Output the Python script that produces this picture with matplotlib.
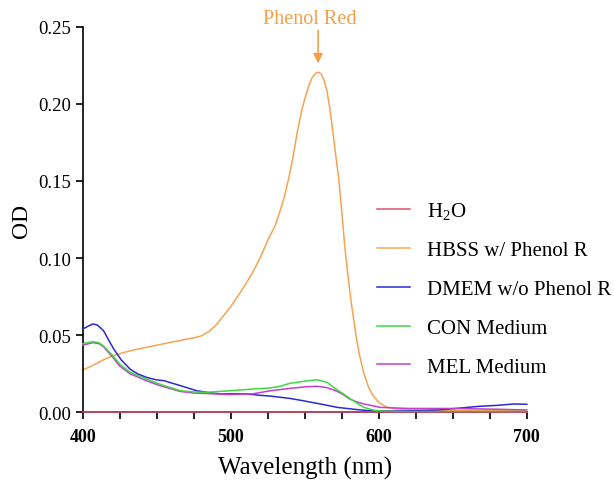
import matplotlib
matplotlib.use("Agg")
import matplotlib.pyplot as plt
from matplotlib.ticker import MultipleLocator, FormatStrFormatter

plt.rcParams['font.family'] = ['Liberation Serif', 'DejaVu Serif']
plt.rcParams['mathtext.fontset'] = 'custom'
plt.rcParams['mathtext.rm'] = 'Liberation Serif'

# ---- data ----
h2o_wl = [400, 700]
h2o_od = [0.0, 0.0]

hbss_wl = [400, 405, 410, 415, 420, 425, 430, 435, 440, 445, 450, 455, 460, 465, 470,
           475, 480, 485, 490, 495, 500, 505, 510, 515, 520, 525, 530, 533, 536, 539,
           542, 545, 548, 551, 553, 555, 557, 559, 561, 563, 565, 567, 569, 571, 573,
           575, 577, 579, 581, 583, 585, 587, 590, 593, 596, 600, 605, 612, 630, 660, 700]
hbss_od = [0.0275, 0.0295, 0.032, 0.0345, 0.0365, 0.038, 0.0393, 0.0405, 0.0415, 0.0425,
           0.0435, 0.0445, 0.0455, 0.0464, 0.0474, 0.0482, 0.0495, 0.0522, 0.0565, 0.0625,
           0.0685, 0.0755, 0.083, 0.091, 0.1005, 0.1115, 0.121, 0.1295, 0.139, 0.151,
           0.165, 0.182, 0.196, 0.2065, 0.2125, 0.217, 0.2195, 0.2205, 0.2195, 0.2155,
           0.2085, 0.1965, 0.1816, 0.166, 0.151, 0.13, 0.108, 0.09, 0.074, 0.0605, 0.0475,
           0.037, 0.025, 0.0165, 0.011, 0.0065, 0.0035, 0.002, 0.0015, 0.0012, 0.001]

dmem_wl = [400, 404, 407, 410, 414, 418, 421, 426, 432, 437, 443, 450, 455, 460, 466,
           471, 477, 485, 493, 500, 511, 520, 527, 540, 549, 560, 572, 585, 594, 610,
           623, 640, 653, 668, 680, 691, 700]
dmem_od = [0.054, 0.056, 0.0573, 0.0565, 0.053, 0.046, 0.041, 0.034, 0.028, 0.025,
           0.0227, 0.021, 0.0205, 0.019, 0.0173, 0.0158, 0.014, 0.0128, 0.0119, 0.012,
           0.0119, 0.011, 0.0105, 0.009, 0.0075, 0.0055, 0.0032, 0.0018, 0.001, 0.0008,
           0.001, 0.0015, 0.0026, 0.0039, 0.0045, 0.0054, 0.0052]

con_wl = [400, 407, 411, 414, 420, 425, 432, 443, 450, 455, 466, 475, 484, 492, 500,
          515, 527, 533, 540, 550, 558, 565, 571, 576, 581, 586, 590, 595, 599, 610, 700]
con_od = [0.0445, 0.0458, 0.045, 0.043, 0.037, 0.0313, 0.026, 0.0216, 0.019, 0.0173,
          0.014, 0.0132, 0.013, 0.0135, 0.014, 0.0151, 0.0158, 0.0168, 0.0188, 0.0202,
          0.0211, 0.0195, 0.0151, 0.012, 0.0086, 0.0055, 0.0032, 0.0018, 0.001, 0.0005,
          0.0005]

mel_wl = [400, 407, 411, 414, 420, 425, 432, 443, 450, 455, 466, 475, 484, 492, 500,
          515, 527, 540, 550, 558, 565, 571, 576, 580, 585, 590, 601, 620, 650, 680, 700]
mel_od = [0.0435, 0.0452, 0.0445, 0.0425, 0.036, 0.030, 0.025, 0.0205, 0.018, 0.0165,
          0.0135, 0.0125, 0.0122, 0.0118, 0.0115, 0.012, 0.014, 0.0155, 0.0165, 0.0169,
          0.016, 0.014, 0.0115, 0.0088, 0.0068, 0.0054, 0.0032, 0.0025, 0.0025, 0.002,
          0.0015]

labels = [r'H$_{2}$O', 'HBSS w/ Phenol R', 'DMEM w/o Phenol R', 'CON Medium', 'MEL Medium']
colors = ['#e0506e', '#f5a552', '#2a2ad2', '#3fd83f', '#c23fd0']

peak_wl = 559
peak_od = 0.2205
annot_text = 'Phenol Red'

fig = plt.figure(figsize=(6.14, 4.85), dpi=100)
ax = fig.add_axes([0.1347, 0.1478, 0.858 - 0.1347, 0.943 - 0.1478])

series = [(h2o_wl, h2o_od), (hbss_wl, hbss_od), (dmem_wl, dmem_od),
          (con_wl, con_od), (mel_wl, mel_od)]
order_z = [5, 2, 3, 4, 3.5]
for (x, y), lab, c, z in zip(series, labels, colors, order_z):
    ax.plot(x, y, color=c, lw=1.1, label=lab, zorder=z, clip_on=False)

ax.set_xlim(400, 700)
ax.set_ylim(0, 0.25)
ax.xaxis.set_major_locator(MultipleLocator(100))
ax.xaxis.set_minor_locator(MultipleLocator(25))
ax.yaxis.set_major_locator(MultipleLocator(0.05))
ax.yaxis.set_major_formatter(FormatStrFormatter('%.2f'))
for s in ['top', 'right']:
    ax.spines[s].set_visible(False)
ax.tick_params(axis='both', which='both', direction='out', length=5, width=1.2)
ax.tick_params(axis='y', labelsize=13.5, pad=3)
ax.tick_params(axis='x', labelsize=13, pad=6)
for t in ax.get_xticklabels():
    t.set_fontweight('bold')
ax.spines['left'].set_linewidth(1.2)
ax.spines['bottom'].set_linewidth(1.2)

ax.set_xlabel('Wavelength (nm)', fontsize=18, labelpad=8)
ax.set_ylabel('OD', fontsize=17, labelpad=5)

# arrow and text
ax.annotate('', xy=(peak_wl, 0.2262), xytext=(peak_wl, 0.2475),
            arrowprops=dict(arrowstyle='-|>', color='#f5a048', lw=1.2,
                            mutation_scale=14, shrinkA=0, shrinkB=0),
            annotation_clip=False)
ax.text(553.6, 0.2492, annot_text, ha='center', va='bottom', fontsize=14.5,
        color='#f5a048', clip_on=False)

leg = ax.legend(loc='upper left', bbox_to_anchor=(377 / 614, 1 - 201 / 485),
                bbox_transform=fig.transFigure, frameon=False, fontsize=15,
                handlelength=1.59, handletextpad=0.82, labelspacing=0.92,
                borderpad=0, borderaxespad=0)
for l in leg.get_lines():
    l.set_linewidth(1.1)

fig.savefig('out.png', dpi=100)
